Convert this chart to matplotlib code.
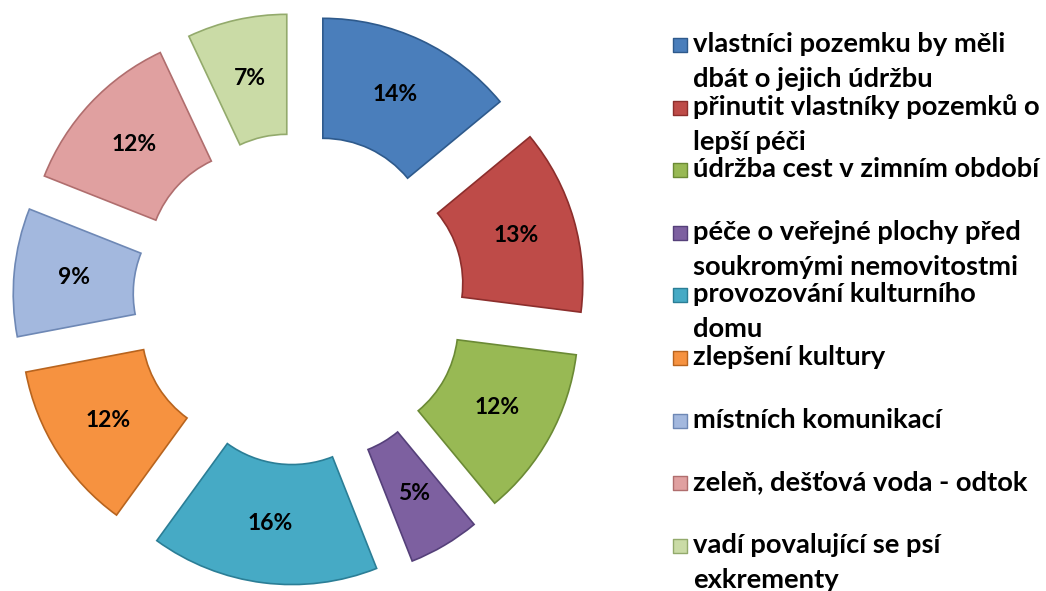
import matplotlib
matplotlib.use("Agg")
import matplotlib.pyplot as plt

plt.rcParams["font.family"] = ["Lato", "DejaVu Sans"]

LABELS = [
    "vlastníci pozemku by měli\ndbát o jejich údržbu",
    "přinutit vlastníky pozemků o\nlepší péči",
    "údržba cest v zimním období",
    "péče o veřejné plochy před\nsoukromými nemovitostmi",
    "provozování kulturního\ndomu",
    "zlepšení kultury",
    "místních komunikací",
    "zeleň, dešťová voda - odtok",
    "vadí povalující se psí\nexkrementy",
]
VALUES = [14, 13, 12, 5, 16, 12, 9, 12, 7]
COLORS = ["#4A7EBB", "#BE4B48", "#98B954", "#7D60A0", "#46AAC5",
          "#F69240", "#A3B8DE", "#E0A0A0", "#CADBA6"]
EDGES = ["#2E5A8C", "#8C2E2C", "#6B8A35", "#55407A", "#2B7E96",
         "#B8641E", "#6E88B5", "#B06E6E", "#93AA6C"]

W, H = 1046, 591

fig = plt.figure(figsize=(W / 100, H / 100), dpi=100)
ax = fig.add_axes([0, 0, 1, 1])

wedges, _, autotexts = ax.pie(
    VALUES,
    radius=230,
    center=(299, H - 299),
    explode=[56] * len(VALUES),
    startangle=90,
    counterclock=False,
    colors=COLORS,
    wedgeprops=dict(width=120, linewidth=1.2),
    autopct=lambda p: f"{p:.0f}%",
    pctdistance=0.74,
    textprops=dict(fontsize=16.5, fontweight="bold", color="black"),
)
for w, ec in zip(wedges, EDGES):
    w.set_edgecolor(ec)

ax.set_xlim(0, W)
ax.set_ylim(0, H)
ax.axis("off")

# legend drawn by hand: fixed row pitch, wrapped labels
row0, pitch, line_gap = H - 45, 62.6, 35
for i, (lab, c, ec) in enumerate(zip(LABELS, COLORS, EDGES)):
    y = row0 - i * pitch
    ax.scatter([680], [y], marker="s", s=100, color=c, edgecolors=ec, linewidths=1)
    for j, line in enumerate(lab.split("\n")):
        ax.text(693, y - 7 - j * line_gap, line, fontsize=19.7, fontweight="bold",
                va="baseline", ha="left")

fig.savefig("out.png", dpi=100)
